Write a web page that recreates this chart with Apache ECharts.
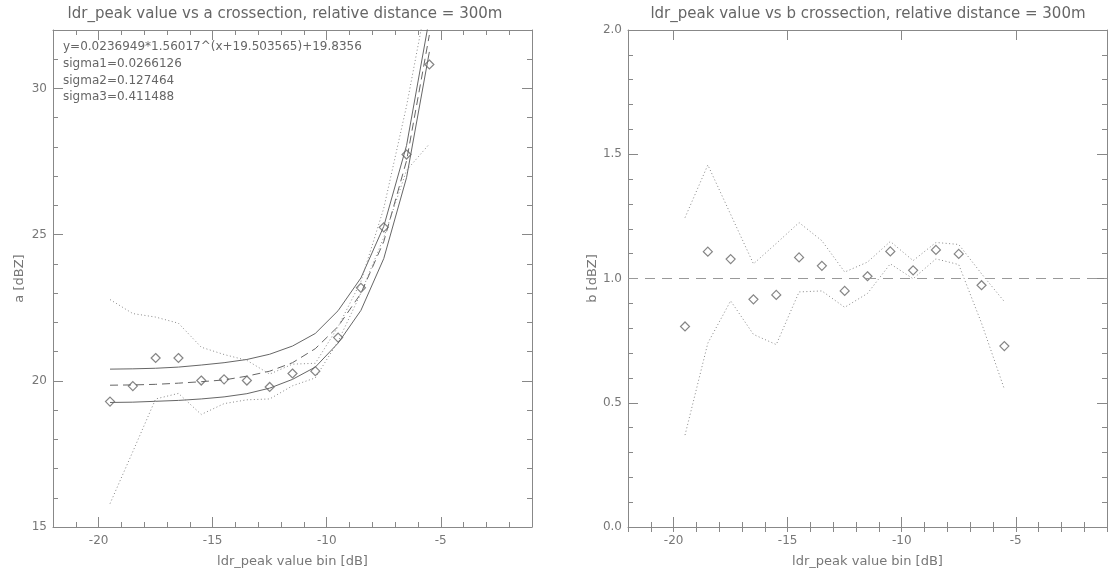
<!DOCTYPE html>
<html>
<head>
<meta charset="utf-8">
<title>ldr_peak crossection</title>
<script src="https://cdn.jsdelivr.net/npm/echarts@6/dist/echarts.min.js"></script>
<style>
  html, body { margin: 0; padding: 0; background: #fff; }
  #chart { width: 1109px; height: 573px; }
</style>
</head>
<body>
<div id="chart"></div>
<script>
// bin centres [dB]
var bins = [-19.5, -18.5, -17.5, -16.5, -15.5, -14.5, -13.5, -12.5, -11.5, -10.5, -9.5, -8.5, -7.5, -6.5, -5.5];

// a crossection (left)
var aPoints  = [19.29, 19.82, 20.78, 20.78, 20.01, 20.05, 20.01, 19.79, 20.25, 20.33, 21.48, 23.18, 25.25, 27.74, 30.82];
var aFit     = [19.85, 19.86, 19.88, 19.92, 19.97, 20.03, 20.16, 20.33, 20.62, 21.10, 21.86, 22.99, 24.76, 27.53, 31.83];
var aFitHigh = [20.40, 20.41, 20.43, 20.47, 20.54, 20.62, 20.73, 20.91, 21.19, 21.62, 22.40, 23.52, 25.28, 28.05, 32.40];
var aFitLow  = [19.26, 19.27, 19.30, 19.33, 19.38, 19.45, 19.56, 19.75, 20.05, 20.47, 21.29, 22.41, 24.18, 26.95, 31.25];
var aDotHigh = [22.78, 22.30, 22.18, 21.97, 21.15, 20.90, 20.70, 20.23, 20.57, 20.60, 21.85, 23.40, 25.90, 29.40, 33.50];
var aDotLow  = [15.80, 17.58, 19.38, 19.57, 18.85, 19.22, 19.35, 19.38, 19.83, 20.10, 21.35, 23.00, 24.90, 27.20, 28.10];

// b crossection (right)
var bPoints  = [0.807, 1.108, 1.078, 0.916, 0.934, 1.085, 1.051, 0.950, 1.009, 1.109, 1.033, 1.115, 1.099, 0.973, 0.728];
var bDotHigh = [1.245, 1.457, 1.258, 1.059, 1.141, 1.225, 1.152, 1.026, 1.066, 1.149, 1.072, 1.145, 1.137, 1.019, 0.907];
var bDotLow  = [0.370, 0.740, 0.910, 0.775, 0.734, 0.946, 0.950, 0.884, 0.940, 1.059, 0.999, 1.079, 1.056, 0.820, 0.555];
var bRef = 1.0;

// axes
var xRange = [-22, -1];
var aRange = [15, 32];
var bRange = [0, 2];
var xTicks = [-20, -15, -10, -5];
var aTicks = [15, 20, 25, 30];
var bTicks = [0, 0.5, 1, 1.5, 2];

var titles = [
  'ldr_peak value vs a crossection, relative distance = 300m',
  'ldr_peak value vs b crossection, relative distance = 300m'
];
var xName = 'ldr_peak value bin [dB]';
var yNames = ['a [dBZ]', 'b [dBZ]'];
var fitText = [
  'y=0.0236949*1.56017^(x+19.503565)+19.8356',
  'sigma1=0.0266126',
  'sigma2=0.127464',
  'sigma3=0.411488'
];

var AX = '#888', TXT = '#666', LBL = '#777', FONT = '"DejaVu Sans", sans-serif';

function pairs(ys){ return bins.map(function(x, i){ return [x, ys[i]]; }); }

// each box gets a major + minor axis on every side, ticks pointing inward
function xAxes(g){
  var base = { type: 'value', gridIndex: g, min: xRange[0], max: xRange[1], splitLine: { show: false } };
  var major = function(pos, labels){
    return Object.assign({}, base, {
      position: pos,
      axisLine: { onZero: false, lineStyle: { color: AX, width: 1 } },
      axisTick: { inside: true, length: 10, customValues: xTicks, lineStyle: { color: AX } },
      axisLabel: labels ? { customValues: xTicks, color: LBL, fontSize: 12, margin: 8, fontFamily: FONT } : { show: false },
      name: labels ? xName : '',
      nameLocation: 'middle', nameGap: 28,
      nameTextStyle: { color: LBL, fontSize: 13, fontFamily: FONT }
    });
  };
  var minor = function(pos){
    return Object.assign({}, base, {
      position: pos, interval: 1,
      axisLine: { show: false },
      axisTick: { inside: true, length: 5, lineStyle: { color: AX } },
      axisLabel: { show: false }
    });
  };
  return [major('bottom', true), minor('bottom'), major('top', false), minor('top')];
}

function yAxes(g, range, ticks, step, name, fmt){
  var base = { type: 'value', gridIndex: g, min: range[0], max: range[1], splitLine: { show: false } };
  var major = function(pos, labels){
    return Object.assign({}, base, {
      position: pos,
      axisLine: { onZero: false, lineStyle: { color: AX, width: 1 } },
      axisTick: { inside: true, length: 10, customValues: ticks, lineStyle: { color: AX } },
      axisLabel: labels ? { customValues: ticks, color: LBL, fontSize: 12, margin: 6, fontFamily: FONT, formatter: fmt } : { show: false },
      name: labels ? name : '',
      nameLocation: 'middle', nameGap: 27,
      nameTextStyle: { color: LBL, fontSize: 13, fontFamily: FONT }
    });
  };
  var minor = function(pos){
    return Object.assign({}, base, {
      position: pos, interval: step,
      axisLine: { show: false },
      axisTick: { inside: true, length: 5, lineStyle: { color: AX } },
      axisLabel: { show: false }
    });
  };
  return [major('left', true), minor('left'), major('right', false), minor('right')];
}

function line(g, ys, type, color){
  return {
    type: 'line', xAxisIndex: g * 4, yAxisIndex: g * 4,
    data: pairs(ys), showSymbol: false, symbol: 'none', clip: true, silent: true,
    lineStyle: { color: color, width: 1, type: type }
  };
}

function diamonds(g, ys){
  return {
    type: 'scatter', xAxisIndex: g * 4, yAxisIndex: g * 4,
    data: pairs(ys), symbol: 'diamond', symbolSize: 9, silent: true,
    itemStyle: { color: 'rgba(0,0,0,0)', borderColor: '#666', borderWidth: 1.2 }
  };
}

document.addEventListener('DOMContentLoaded', function(){
  var chart = echarts.init(document.getElementById('chart'));
  var dotted = [1, 2.5], dashed = [8, 5];

  var bRefLine = line(1, bDotHigh, dotted, '#888');
  bRefLine.markLine = {
    symbol: 'none', silent: true, label: { show: false },
    lineStyle: { color: '#999', width: 1, type: [10, 7] },
    data: [{ yAxis: bRef }]
  };

  var option = {
    animation: false,
    backgroundColor: '#fff',
    textStyle: { fontFamily: FONT },
    grid: [
      { left: 53, top: 30, width: 479, height: 503 },
      { left: 628, top: 30, width: 479, height: 503 }
    ],
    xAxis: xAxes(0).concat(xAxes(1)),
    yAxis: yAxes(0, aRange, aTicks, 1, yNames[0], function(v){ return String(v); })
      .concat(yAxes(1, bRange, bTicks, 0.1, yNames[1], function(v){ return v.toFixed(1); })),
    graphic: [
      { type: 'text', x: 285, y: 14, style: { text: titles[0], align: 'center', verticalAlign: 'middle', fill: TXT, font: '15px ' + FONT } },
      { type: 'text', x: 868, y: 14, style: { text: titles[1], align: 'center', verticalAlign: 'middle', fill: TXT, font: '15px ' + FONT } }
    ].concat(fitText.map(function(t, i){
      return { type: 'text', x: 63, y: 47 + i * 16.7, style: { text: t, align: 'left', verticalAlign: 'middle', fill: TXT, font: '12px ' + FONT } };
    })),
    series: [
      line(0, aFitHigh, 'solid', '#666'),
      line(0, aFit, dashed, '#666'),
      line(0, aFitLow, 'solid', '#666'),
      line(0, aDotHigh, dotted, '#888'),
      line(0, aDotLow, dotted, '#888'),
      diamonds(0, aPoints),
      bRefLine,
      line(1, bDotLow, dotted, '#888'),
      diamonds(1, bPoints)
    ]
  };
  chart.setOption(option);
});
</script>
</body>
</html>
